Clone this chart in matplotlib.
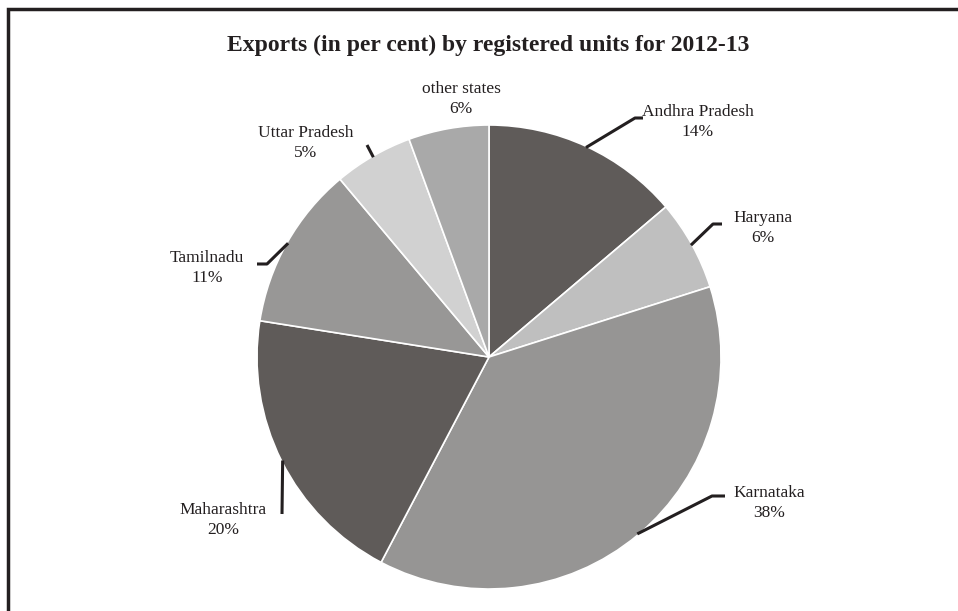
import numpy as np
import matplotlib.pyplot as plt
from matplotlib.patches import Rectangle

# data
states = ["Andhra Pradesh", "Haryana", "Karnataka", "Maharashtra",
          "Tamilnadu", "Uttar Pradesh", "other states"]
shares = [13.8, 6.3, 37.6, 19.8, 11.4, 5.5, 5.6]   # wedge sizes as drawn
shown_pct = [14, 6, 38, 20, 11, 5, 6]               # printed labels
colors = ["#5f5b59", "#bfbfbf", "#969594", "#5f5b59",
          "#989796", "#d1d1d1", "#a9a9a9"]
title = "Exports (in per cent) by registered units for 2012-13"

W, H = 958, 611
CX, CY, R = 489, 357, 232   # pie centre / radius in pixels

# label layout in pixels: text centre, leader path after the wedge edge
layout = {
    "Andhra Pradesh": ((698, 122), [(635, 118), (643, 118)]),
    "Haryana": ((763, 228), [(713, 224), (722, 224)]),
    "Karnataka": ((769, 503), [(712, 496), (725, 496)]),
    "Maharashtra": ((223, 520), [(282, 514)]),
    "Tamilnadu": ((207, 268), [(267, 264), (257, 264)]),
    "Uttar Pradesh": ((306, 143), [(367, 145)]),
    "other states": ((461, 99), None),
}


def px(p):
    return ((p[0] - CX) / R, (CY - p[1]) / R)


plt.rcParams["font.family"] = ["Liberation Serif", "DejaVu Serif"]

fig = plt.figure(figsize=(W / 100, H / 100), dpi=100)
ax = fig.add_axes([0, 0, 1, 1])

wedges, _ = ax.pie(
    shares,
    colors=colors,
    startangle=90,
    counterclock=False,
    radius=1,
    wedgeprops=dict(edgecolor="white", linewidth=1.2),
)

ax.set_xlim(-CX / R, (W - CX) / R)
ax.set_ylim((CY - H) / R, CY / R)
ax.set_aspect("equal")
ax.axis("off")

for w, name, pct in zip(wedges, states, shown_pct):
    (tx, ty), path = layout[name]
    ax.text(*px((tx, ty)), f"{name}\n{pct}%", ha="center", va="center",
            fontsize=12.5, color="#231f20", linespacing=1.4)
    if path is None:
        continue
    mid = np.deg2rad((w.theta1 + w.theta2) / 2)
    pts = [(np.cos(mid) * 0.995, np.sin(mid) * 0.995)] + [px(p) for p in path]
    xs, ys = zip(*pts)
    ax.plot(xs, ys, color="#231f20", lw=2.2, solid_capstyle="butt")

fig.text(488 / W, 1 - 45 / H, title, ha="center", va="center",
         fontsize=17, fontweight="bold", color="#231f20")

# frame of the panel (only top and left edges are visible)
fig.add_artist(Rectangle((7.5 / W, -0.1), 2, 1.1 - 8.5 / H,
                         transform=fig.transFigure, fill=False,
                         edgecolor="#231f20", lw=2.5))

fig.savefig("out.png", dpi=100)
